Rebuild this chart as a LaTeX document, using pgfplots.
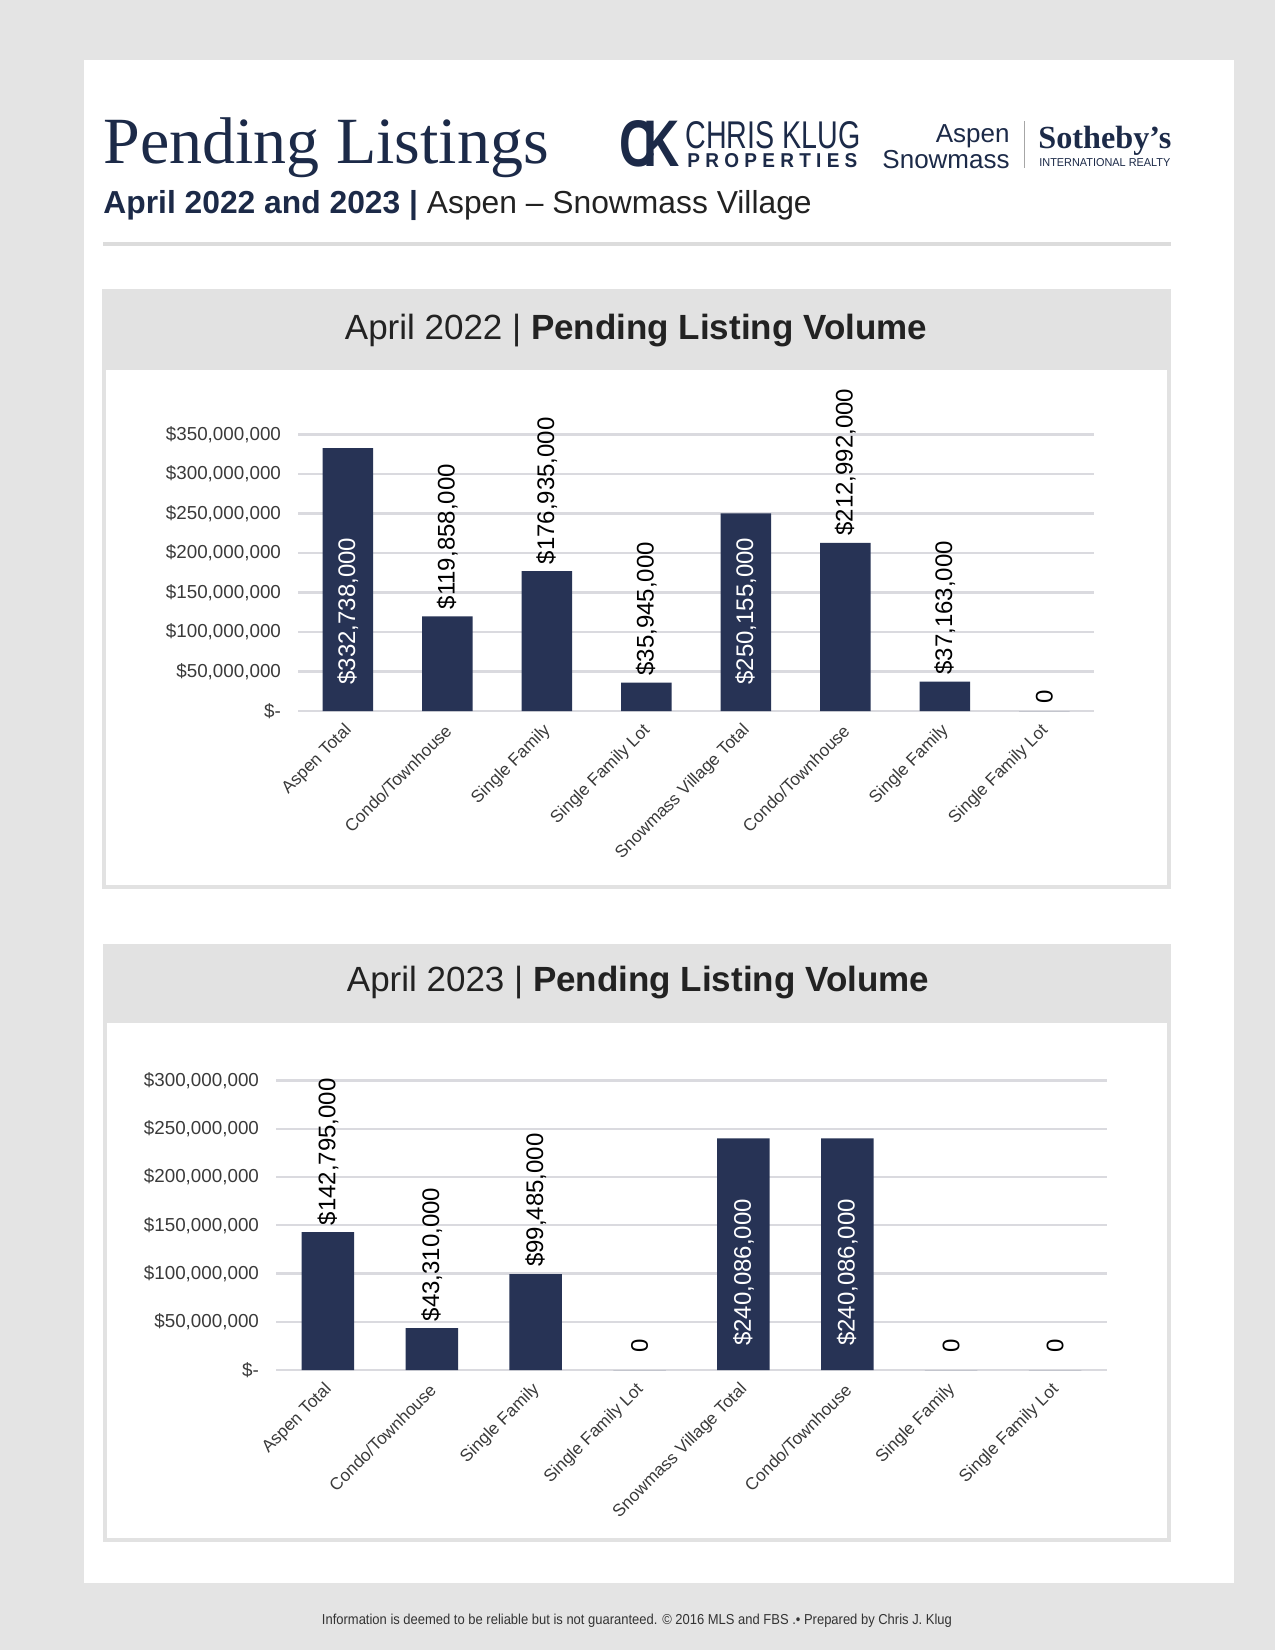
\documentclass[border=0pt]{standalone}
\usepackage{pgfplots}
\pgfplotsset{compat=1.18}
\usepackage{pgfplotstable}
\usepackage{graphicx}
\usepackage{fontspec}
\setmainfont{Liberation Sans}
\newfontfamily\seriffont{Liberation Serif}
\definecolor{pagebg}{HTML}{E4E4E4}
\definecolor{panelgray}{HTML}{E2E2E2}
\definecolor{rulegray}{HTML}{DCDCDC}
\definecolor{navy}{HTML}{273355}
\definecolor{titlenavy}{HTML}{1C2A48}
\definecolor{gridgray}{HTML}{DADADF}
\definecolor{ticktext}{HTML}{3A3A3A}
\definecolor{headtext}{HTML}{222222}
\definecolor{footgray}{HTML}{333333}

\pgfplotstableread{
x y
0 332738000
1 119858000
2 176935000
3 35945000
4 250155000
5 212992000
6 37163000
7 0
}\dataA
\pgfplotstableread{
x y
0 142795000
1 43310000
2 99485000
3 0
4 240086000
5 240086000
6 0
7 0
}\dataB

\pgfplotsset{
  chartstyle/.style={
    scale only axis,
    xmin=-0.5, xmax=7.5, ymin=0,
    axis line style={draw=none},
    tick style={draw=none},
    ymajorgrids, grid style={gridgray, line width=1.1pt},
    scaled y ticks=false,
    clip=false,
    xtick={0,1,2,3,4,5,6,7},
    xticklabels={Aspen Total,Condo/Townhouse,Single Family,Single Family Lot,Snowmass Village Total,Condo/Townhouse,Single Family,Single Family Lot},
    xticklabel style={rotate=45, anchor=east, xshift=-2.1pt, yshift=-6.4pt, font=\fontsize{8.6}{10}\selectfont, text=ticktext},
    yticklabel style={font=\fontsize{9.4}{11}\selectfont, text=ticktext, xshift=-5pt},
  },
  outlab/.style={draw=none, mark=none, nodes near coords, point meta=explicit symbolic,
    every node near coord/.style={rotate=90, anchor=west, font=\fontsize{12}{12}\selectfont, text=black}},
  inlab/.style={draw=none, mark=none, nodes near coords, point meta=explicit symbolic,
    every node near coord/.style={rotate=90, anchor=west, font=\fontsize{12}{12}\selectfont, text=white}},
}

\begin{document}
\begin{tikzpicture}
\path[use as bounding box] (0,0) rectangle (637.5pt,-825pt);
\begin{scope}[x=0.5pt, y=-0.5pt]
  \fill[pagebg] (0,0) rectangle (1275,1650);
  \fill[white] (84,60) rectangle (1234,1583);
  % header
  \node[anchor=base west, inner sep=0, text=titlenavy, font=\seriffont\fontsize{33}{33}\selectfont] at (103,163) {Pending Listings};
  \node[anchor=base west, inner sep=0, font=\fontsize{15.9}{16}\selectfont] at (103,213)
    {\textcolor{titlenavy}{\bfseries April 2022 and 2023 |} \textcolor{headtext}{Aspen – Snowmass Village}};
  \draw[rulegray, line width=2pt] (103,244) -- (1171,244);
  % logos
  \node[anchor=base west, inner sep=0, text=titlenavy] at (619,166)
    {\resizebox{30pt}{23pt}{\bfseries C\kern-0.25em K}};
  \node[anchor=base west, inner sep=0, text=titlenavy] at (685,148)
    {\resizebox{87.5pt}{13.5pt}{CHRIS KLUG}};
  \node[anchor=base west, inner sep=0, text=titlenavy] at (687,167)
    {\resizebox{85pt}{7pt}{\bfseries P R O P E R T I E S}};
  \node[anchor=base east, inner sep=0, text=titlenavy, font=\fontsize{13}{13}\selectfont] at (1010,142) {Aspen};
  \node[anchor=base east, inner sep=0, text=titlenavy, font=\fontsize{13}{13}\selectfont] at (1010,168) {Snowmass};
  \draw[gray!70, line width=0.5pt] (1024,121) -- (1024,168);
  \node[anchor=base west, inner sep=0, text=titlenavy] at (1038,148)
    {\resizebox{66.5pt}{!}{\seriffont\bfseries Sotheby’s}};
  \node[anchor=base west, inner sep=0, text=titlenavy] at (1039,166)
    {\resizebox{65.5pt}{4pt}{INTERNATIONAL REALTY}};
  % panel 1
  \fill[panelgray] (102,289) rectangle (1171,889);
  \fill[white] (106,370) rectangle (1167,885);
  \node[anchor=base, inner sep=0, text=headtext, font=\fontsize{17.5}{18}\selectfont] at (636,339)
    {April 2022 | \textbf{Pending Listing Volume}};
  % panel 2
  \fill[panelgray] (103,944) rectangle (1171,1542);
  \fill[white] (107,1023) rectangle (1167,1538);
  \node[anchor=base, inner sep=0, text=headtext, font=\fontsize{17.5}{18}\selectfont] at (638,991)
    {April 2023 | \textbf{Pending Listing Volume}};
  % footer
  \node[anchor=base, inner sep=0, text=footgray] at (637,1624)
    {\resizebox{315pt}{\height}{\fontsize{7.2}{8}\selectfont Information is deemed to be reliable but is not guaranteed. © 2016 MLS and FBS .• Prepared by Chris J. Klug}};
  \coordinate (c1) at (298,711);
  \coordinate (c2) at (276,1370);
\end{scope}

\begin{axis}[chartstyle, at={(c1)}, anchor=south west,
  width=398pt, height=138.25pt, ymax=350000000,
  ytick={0,50000000,100000000,150000000,200000000,250000000,300000000,350000000},
  yticklabels={{\$-},{\$50,000,000},{\$100,000,000},{\$150,000,000},{\$200,000,000},{\$250,000,000},{\$300,000,000},{\$350,000,000}},
]
\addplot[ybar, bar width=25.25pt, fill=navy, draw=none] table[x=x, y=y] {\dataA};
\addplot[outlab] coordinates {
  (1,119858000) [\$119,858,000]
  (2,176935000) [\$176,935,000]
  (3,35945000) [\$35,945,000]
  (5,212992000) [\$212,992,000]
  (6,37163000) [\$37,163,000]
  (7,0) [0]
};
\addplot[inlab, y filter/.expression={24600000}] coordinates {
  (0,332738000) [\$332,738,000]
  (4,250155000) [\$250,155,000]
};
\end{axis}

\begin{axis}[chartstyle, at={(c2)}, anchor=south west,
  width=415.5pt, height=144.75pt, ymax=300000000,
  ytick={0,50000000,100000000,150000000,200000000,250000000,300000000},
  yticklabels={{\$-},{\$50,000,000},{\$100,000,000},{\$150,000,000},{\$200,000,000},{\$250,000,000},{\$300,000,000}},
]
\addplot[ybar, bar width=26.3pt, fill=navy, draw=none] table[x=x, y=y] {\dataB};
\addplot[outlab] coordinates {
  (0,142795000) [\$142,795,000]
  (1,43310000) [\$43,310,000]
  (2,99485000) [\$99,485,000]
};
\addplot[outlab, every node near coord/.append style={xshift=5pt}] coordinates {
  (3,0) [0]
  (6,0) [0]
  (7,0) [0]
};
\addplot[inlab, y filter/.expression={17800000}] coordinates {
  (4,240086000) [\$240,086,000]
  (5,240086000) [\$240,086,000]
};
\end{axis}
\end{tikzpicture}
\end{document}
